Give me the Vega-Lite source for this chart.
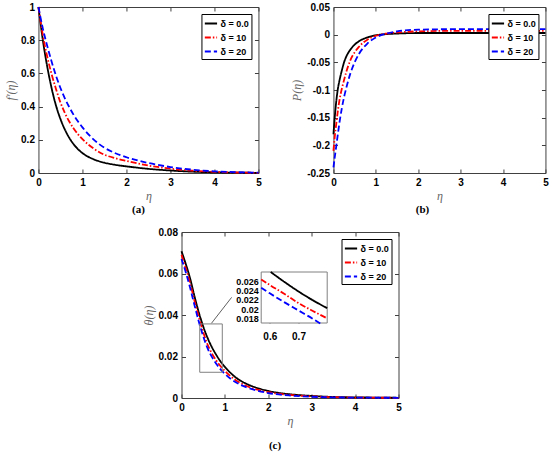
{
  "$schema": "https://vega.github.io/schema/vega-lite/v6.json",
  "background": "white",
  "padding": {"left": 4, "top": 1, "right": 1, "bottom": 0},
  "config": {
    "view": {"stroke": "#404040", "strokeWidth": 1},
    "axis": {
      "grid": false,
      "domain": false,
      "labelFont": "Liberation Sans",
      "labelFontWeight": "bold",
      "labelFontSize": 10,
      "labelColor": "black",
      "labelPadding": 8,
      "labelOverlap": false,
      "labelFlush": false,
      "tickColor": "#404040",
      "tickSize": -4,
      "titleFont": "Liberation Serif",
      "titleFontStyle": "italic",
      "titleFontWeight": "normal",
      "titleFontSize": 12,
      "titleColor": "#666666",
      "titlePadding": 3
    },
    "legend": {
      "orient": "top-right",
      "offset": 7,
      "strokeColor": "black",
      "fillColor": "white",
      "padding": 2,
      "rowPadding": 1,
      "symbolType": "stroke",
      "symbolSize": 150,
      "symbolStrokeWidth": 1.8,
      "labelFont": "Liberation Sans",
      "labelFontWeight": "bold",
      "labelFontSize": 9,
      "labelColor": "black",
      "labelOffset": 2
    },
    "title": {"font": "Liberation Serif", "fontWeight": "bold", "fontSize": 11, "color": "black", "orient": "bottom", "anchor": "middle"}
  },
  "datasets": {
    "fp": [
      {"eta": 0, "v": 1, "d": "δ = 0.0"}, {"eta": 0.1, "v": 0.8, "d": "δ = 0.0"}, {"eta": 0.2, "v": 0.64, "d": "δ = 0.0"},
      {"eta": 0.3, "v": 0.51, "d": "δ = 0.0"}, {"eta": 0.4, "v": 0.405, "d": "δ = 0.0"}, {"eta": 0.5, "v": 0.325, "d": "δ = 0.0"},
      {"eta": 0.6, "v": 0.262, "d": "δ = 0.0"}, {"eta": 0.7, "v": 0.212, "d": "δ = 0.0"}, {"eta": 0.8, "v": 0.173, "d": "δ = 0.0"},
      {"eta": 0.9, "v": 0.143, "d": "δ = 0.0"}, {"eta": 1, "v": 0.12, "d": "δ = 0.0"}, {"eta": 1.25, "v": 0.083, "d": "δ = 0.0"},
      {"eta": 1.5, "v": 0.062, "d": "δ = 0.0"}, {"eta": 1.75, "v": 0.049, "d": "δ = 0.0"}, {"eta": 2, "v": 0.04, "d": "δ = 0.0"},
      {"eta": 2.5, "v": 0.025, "d": "δ = 0.0"}, {"eta": 3, "v": 0.015, "d": "δ = 0.0"}, {"eta": 3.5, "v": 0.008, "d": "δ = 0.0"},
      {"eta": 4, "v": 0.004, "d": "δ = 0.0"}, {"eta": 4.5, "v": 0.002, "d": "δ = 0.0"}, {"eta": 5, "v": 0.001, "d": "δ = 0.0"},
      {"eta": 0, "v": 1, "d": "δ = 10"}, {"eta": 0.1, "v": 0.83, "d": "δ = 10"}, {"eta": 0.2, "v": 0.7, "d": "δ = 10"},
      {"eta": 0.3, "v": 0.595, "d": "δ = 10"}, {"eta": 0.4, "v": 0.505, "d": "δ = 10"}, {"eta": 0.5, "v": 0.425, "d": "δ = 10"},
      {"eta": 0.6, "v": 0.362, "d": "δ = 10"}, {"eta": 0.7, "v": 0.31, "d": "δ = 10"}, {"eta": 0.8, "v": 0.268, "d": "δ = 10"},
      {"eta": 0.9, "v": 0.233, "d": "δ = 10"}, {"eta": 1, "v": 0.204, "d": "δ = 10"}, {"eta": 1.25, "v": 0.148, "d": "δ = 10"},
      {"eta": 1.5, "v": 0.11, "d": "δ = 10"}, {"eta": 1.75, "v": 0.089, "d": "δ = 10"}, {"eta": 2, "v": 0.073, "d": "δ = 10"},
      {"eta": 2.5, "v": 0.045, "d": "δ = 10"}, {"eta": 3, "v": 0.026, "d": "δ = 10"}, {"eta": 3.5, "v": 0.014, "d": "δ = 10"},
      {"eta": 4, "v": 0.007, "d": "δ = 10"}, {"eta": 4.5, "v": 0.003, "d": "δ = 10"}, {"eta": 5, "v": 0.001, "d": "δ = 10"},
      {"eta": 0, "v": 1, "d": "δ = 20"}, {"eta": 0.1, "v": 0.87, "d": "δ = 20"}, {"eta": 0.2, "v": 0.765, "d": "δ = 20"},
      {"eta": 0.3, "v": 0.67, "d": "δ = 20"}, {"eta": 0.4, "v": 0.585, "d": "δ = 20"}, {"eta": 0.5, "v": 0.512, "d": "δ = 20"},
      {"eta": 0.6, "v": 0.45, "d": "δ = 20"}, {"eta": 0.7, "v": 0.397, "d": "δ = 20"}, {"eta": 0.8, "v": 0.35, "d": "δ = 20"},
      {"eta": 0.9, "v": 0.31, "d": "δ = 20"}, {"eta": 1, "v": 0.275, "d": "δ = 20"}, {"eta": 1.25, "v": 0.203, "d": "δ = 20"},
      {"eta": 1.5, "v": 0.152, "d": "δ = 20"}, {"eta": 1.75, "v": 0.119, "d": "δ = 20"}, {"eta": 2, "v": 0.095, "d": "δ = 20"},
      {"eta": 2.5, "v": 0.06, "d": "δ = 20"}, {"eta": 3, "v": 0.036, "d": "δ = 20"}, {"eta": 3.5, "v": 0.02, "d": "δ = 20"},
      {"eta": 4, "v": 0.01, "d": "δ = 20"}, {"eta": 4.5, "v": 0.005, "d": "δ = 20"}, {"eta": 5, "v": 0.002, "d": "δ = 20"}
    ],
    "pr": [
      {"eta": 0, "v": -0.18, "d": "δ = 0.0"}, {"eta": 0.03, "v": -0.15, "d": "δ = 0.0"}, {"eta": 0.06, "v": -0.125, "d": "δ = 0.0"},
      {"eta": 0.1, "v": -0.1, "d": "δ = 0.0"}, {"eta": 0.15, "v": -0.08, "d": "δ = 0.0"}, {"eta": 0.2, "v": -0.064, "d": "δ = 0.0"},
      {"eta": 0.25, "v": -0.05, "d": "δ = 0.0"}, {"eta": 0.3, "v": -0.04, "d": "δ = 0.0"}, {"eta": 0.4, "v": -0.027, "d": "δ = 0.0"},
      {"eta": 0.5, "v": -0.018, "d": "δ = 0.0"}, {"eta": 0.6, "v": -0.012, "d": "δ = 0.0"}, {"eta": 0.8, "v": -0.005, "d": "δ = 0.0"},
      {"eta": 1, "v": -0.001, "d": "δ = 0.0"}, {"eta": 1.25, "v": 0.001, "d": "δ = 0.0"}, {"eta": 1.5, "v": 0.002, "d": "δ = 0.0"},
      {"eta": 2, "v": 0.003, "d": "δ = 0.0"}, {"eta": 3, "v": 0.003, "d": "δ = 0.0"}, {"eta": 5, "v": 0.003, "d": "δ = 0.0"},
      {"eta": 0, "v": -0.21, "d": "δ = 10"}, {"eta": 0.03, "v": -0.185, "d": "δ = 10"}, {"eta": 0.06, "v": -0.165, "d": "δ = 10"},
      {"eta": 0.1, "v": -0.14, "d": "δ = 10"}, {"eta": 0.15, "v": -0.115, "d": "δ = 10"}, {"eta": 0.2, "v": -0.097, "d": "δ = 10"},
      {"eta": 0.25, "v": -0.082, "d": "δ = 10"}, {"eta": 0.3, "v": -0.068, "d": "δ = 10"}, {"eta": 0.4, "v": -0.046, "d": "δ = 10"},
      {"eta": 0.5, "v": -0.032, "d": "δ = 10"}, {"eta": 0.6, "v": -0.022, "d": "δ = 10"}, {"eta": 0.8, "v": -0.009, "d": "δ = 10"},
      {"eta": 1, "v": -0.002, "d": "δ = 10"}, {"eta": 1.25, "v": 0.002, "d": "δ = 10"}, {"eta": 1.5, "v": 0.004, "d": "δ = 10"},
      {"eta": 2, "v": 0.006, "d": "δ = 10"}, {"eta": 3, "v": 0.007, "d": "δ = 10"}, {"eta": 5, "v": 0.007, "d": "δ = 10"},
      {"eta": 0, "v": -0.24, "d": "δ = 20"}, {"eta": 0.03, "v": -0.222, "d": "δ = 20"}, {"eta": 0.06, "v": -0.205, "d": "δ = 20"},
      {"eta": 0.1, "v": -0.182, "d": "δ = 20"}, {"eta": 0.15, "v": -0.155, "d": "δ = 20"}, {"eta": 0.2, "v": -0.132, "d": "δ = 20"},
      {"eta": 0.25, "v": -0.113, "d": "δ = 20"}, {"eta": 0.3, "v": -0.097, "d": "δ = 20"}, {"eta": 0.4, "v": -0.07, "d": "δ = 20"},
      {"eta": 0.5, "v": -0.05, "d": "δ = 20"}, {"eta": 0.6, "v": -0.035, "d": "δ = 20"}, {"eta": 0.8, "v": -0.016, "d": "δ = 20"},
      {"eta": 1, "v": -0.005, "d": "δ = 20"}, {"eta": 1.25, "v": 0.002, "d": "δ = 20"}, {"eta": 1.5, "v": 0.006, "d": "δ = 20"},
      {"eta": 2, "v": 0.009, "d": "δ = 20"}, {"eta": 3, "v": 0.01, "d": "δ = 20"}, {"eta": 5, "v": 0.01, "d": "δ = 20"}
    ],
    "theta": [
      {"eta": 0, "v": 0.0707, "d": "δ = 0.0"}, {"eta": 0.1, "v": 0.0645, "d": "δ = 0.0"}, {"eta": 0.2, "v": 0.0575, "d": "δ = 0.0"},
      {"eta": 0.3, "v": 0.049, "d": "δ = 0.0"}, {"eta": 0.4, "v": 0.0412, "d": "δ = 0.0"}, {"eta": 0.5, "v": 0.0345, "d": "δ = 0.0"},
      {"eta": 0.6, "v": 0.029, "d": "δ = 0.0"}, {"eta": 0.7, "v": 0.0245, "d": "δ = 0.0"}, {"eta": 0.8, "v": 0.0208, "d": "δ = 0.0"},
      {"eta": 0.9, "v": 0.0176, "d": "δ = 0.0"}, {"eta": 1, "v": 0.015, "d": "δ = 0.0"}, {"eta": 1.25, "v": 0.0099, "d": "δ = 0.0"},
      {"eta": 1.5, "v": 0.0068, "d": "δ = 0.0"}, {"eta": 1.75, "v": 0.0048, "d": "δ = 0.0"}, {"eta": 2, "v": 0.0034, "d": "δ = 0.0"},
      {"eta": 2.5, "v": 0.0018, "d": "δ = 0.0"}, {"eta": 3, "v": 0.001, "d": "δ = 0.0"}, {"eta": 3.5, "v": 0.0005, "d": "δ = 0.0"},
      {"eta": 4, "v": 0.0003, "d": "δ = 0.0"}, {"eta": 4.5, "v": 0.0002, "d": "δ = 0.0"}, {"eta": 5, "v": 0.0001, "d": "δ = 0.0"},
      {"eta": 0, "v": 0.069, "d": "δ = 10"}, {"eta": 0.1, "v": 0.0625, "d": "δ = 10"}, {"eta": 0.2, "v": 0.0553, "d": "δ = 10"},
      {"eta": 0.3, "v": 0.0468, "d": "δ = 10"}, {"eta": 0.4, "v": 0.039, "d": "δ = 10"}, {"eta": 0.5, "v": 0.0318, "d": "δ = 10"},
      {"eta": 0.6, "v": 0.0258, "d": "δ = 10"}, {"eta": 0.7, "v": 0.0215, "d": "δ = 10"}, {"eta": 0.8, "v": 0.0181, "d": "δ = 10"},
      {"eta": 0.9, "v": 0.0153, "d": "δ = 10"}, {"eta": 1, "v": 0.013, "d": "δ = 10"}, {"eta": 1.25, "v": 0.0086, "d": "δ = 10"},
      {"eta": 1.5, "v": 0.0058, "d": "δ = 10"}, {"eta": 1.75, "v": 0.004, "d": "δ = 10"}, {"eta": 2, "v": 0.0028, "d": "δ = 10"},
      {"eta": 2.5, "v": 0.0015, "d": "δ = 10"}, {"eta": 3, "v": 0.0008, "d": "δ = 10"}, {"eta": 3.5, "v": 0.0004, "d": "δ = 10"},
      {"eta": 4, "v": 0.0002, "d": "δ = 10"}, {"eta": 5, "v": 0.0001, "d": "δ = 10"},
      {"eta": 0, "v": 0.067, "d": "δ = 20"}, {"eta": 0.1, "v": 0.0605, "d": "δ = 20"}, {"eta": 0.2, "v": 0.053, "d": "δ = 20"},
      {"eta": 0.3, "v": 0.0447, "d": "δ = 20"}, {"eta": 0.4, "v": 0.0367, "d": "δ = 20"}, {"eta": 0.5, "v": 0.0298, "d": "δ = 20"},
      {"eta": 0.6, "v": 0.024, "d": "δ = 20"}, {"eta": 0.7, "v": 0.0198, "d": "δ = 20"}, {"eta": 0.8, "v": 0.0165, "d": "δ = 20"},
      {"eta": 0.9, "v": 0.0138, "d": "δ = 20"}, {"eta": 1, "v": 0.0116, "d": "δ = 20"}, {"eta": 1.25, "v": 0.0076, "d": "δ = 20"},
      {"eta": 1.5, "v": 0.0051, "d": "δ = 20"}, {"eta": 1.75, "v": 0.0035, "d": "δ = 20"}, {"eta": 2, "v": 0.0024, "d": "δ = 20"},
      {"eta": 2.5, "v": 0.0012, "d": "δ = 20"}, {"eta": 3, "v": 0.0006, "d": "δ = 20"}, {"eta": 3.5, "v": 0.0003, "d": "δ = 20"},
      {"eta": 4, "v": 0.0002, "d": "δ = 20"}, {"eta": 5, "v": 0.0001, "d": "δ = 20"}
    ],
    "inset": [
      {"eta": 0.603, "v": 0.028, "d": "δ = 0.0"}, {"eta": 0.65, "v": 0.0259, "d": "δ = 0.0"}, {"eta": 0.7, "v": 0.0238, "d": "δ = 0.0"},
      {"eta": 0.75, "v": 0.0219, "d": "δ = 0.0"}, {"eta": 0.8, "v": 0.0202, "d": "δ = 0.0"},
      {"eta": 0.57, "v": 0.0264, "d": "δ = 10"}, {"eta": 0.6, "v": 0.0252, "d": "δ = 10"}, {"eta": 0.65, "v": 0.0233, "d": "δ = 10"},
      {"eta": 0.7, "v": 0.0213, "d": "δ = 10"}, {"eta": 0.75, "v": 0.0196, "d": "δ = 10"}, {"eta": 0.8, "v": 0.018, "d": "δ = 10"},
      {"eta": 0.57, "v": 0.0246, "d": "δ = 20"}, {"eta": 0.6, "v": 0.0234, "d": "δ = 20"}, {"eta": 0.65, "v": 0.0215, "d": "δ = 20"},
      {"eta": 0.7, "v": 0.0197, "d": "δ = 20"}, {"eta": 0.75, "v": 0.0179, "d": "δ = 20"}, {"eta": 0.776, "v": 0.0169, "d": "δ = 20"}
    ],
    "zoombox": [{"x1": 0.42, "x2": 0.94, "y1": 0.0124, "y2": 0.0357}],
    "connector": [{"x1": 0.69, "y1": 0.036, "x2": 1.155, "y2": 0.0485}],
    "insetbox": [{"x1": 0.57, "x2": 0.8, "y1": 0.017, "y2": 0.028}]
  },
  "vconcat": [
    {
      "hconcat": [
        {
          "width": 220,
          "height": 166,
          "data": {"name": "fp"},
          "title": {"text": "(a)", "offset": 3, "dx": -10},
          "layer": [
            {
              "mark": {"type": "line", "strokeWidth": 1.8, "interpolate": "monotone"},
              "encoding": {
                "x": {"field": "eta", "type": "quantitative", "scale": {"domain": [0, 5], "nice": false}, "axis": {"orient": "bottom", "values": [0, 1, 2, 3, 4, 5], "title": "η"}},
                "y": {"field": "v", "type": "quantitative", "scale": {"domain": [0, 1], "nice": false}, "axis": {"orient": "left", "values": [0, 0.2, 0.4, 0.6, 0.8, 1], "title": "f′(η)", "labelExpr": "'' + datum.value"}},
                "color": {"field": "d", "type": "nominal", "scale": {"domain": ["δ = 0.0", "δ = 10", "δ = 20"], "range": ["#000000", "#ff0000", "#0000ff"]}, "legend": {"title": null}},
                "strokeDash": {"field": "d", "type": "nominal", "scale": {"domain": ["δ = 0.0", "δ = 10", "δ = 20"], "range": [[1, 0], [6, 2, 1.5, 2], [6, 3]]}, "legend": {"title": null}}
              }
            },
            {
              "mark": {"type": "point", "opacity": 0},
              "encoding": {
                "x": {"field": "eta", "type": "quantitative", "axis": {"orient": "top", "values": [0, 1, 2, 3, 4, 5], "labels": false, "title": null}},
                "y": {"field": "v", "type": "quantitative", "axis": {"orient": "right", "values": [0, 0.2, 0.4, 0.6, 0.8, 1], "labels": false, "title": null}}
              }
            }
          ],
          "resolve": {"axis": {"x": "independent", "y": "independent"}}
        },
        {
          "width": 212,
          "height": 166,
          "data": {"name": "pr"},
          "title": {"text": "(b)", "offset": 3, "dx": -17},
          "layer": [
            {
              "mark": {"type": "line", "strokeWidth": 1.8, "interpolate": "monotone"},
              "encoding": {
                "x": {"field": "eta", "type": "quantitative", "scale": {"domain": [0, 5], "nice": false}, "axis": {"orient": "bottom", "values": [0, 1, 2, 3, 4, 5], "title": "η"}},
                "y": {"field": "v", "type": "quantitative", "scale": {"domain": [-0.25, 0.05], "nice": false, "zero": false}, "axis": {"orient": "left", "values": [-0.25, -0.2, -0.15, -0.1, -0.05, 0, 0.05], "title": "P(η)", "labelExpr": "'' + datum.value"}},
                "color": {"field": "d", "type": "nominal", "scale": {"domain": ["δ = 0.0", "δ = 10", "δ = 20"], "range": ["#000000", "#ff0000", "#0000ff"]}, "legend": {"title": null}},
                "strokeDash": {"field": "d", "type": "nominal", "scale": {"domain": ["δ = 0.0", "δ = 10", "δ = 20"], "range": [[1, 0], [6, 2, 1.5, 2], [6, 3]]}, "legend": {"title": null}}
              }
            },
            {
              "mark": {"type": "point", "opacity": 0},
              "encoding": {
                "x": {"field": "eta", "type": "quantitative", "axis": {"orient": "top", "values": [0, 1, 2, 3, 4, 5], "labels": false, "title": null}},
                "y": {"field": "v", "type": "quantitative", "axis": {"orient": "right", "values": [-0.25, -0.2, -0.15, -0.1, -0.05, 0, 0.05], "labels": false, "title": null}}
              }
            }
          ],
          "resolve": {"axis": {"x": "independent", "y": "independent"}}
        }
      ],
      "spacing": 26,
      "resolve": {"scale": {"color": "independent", "strokeDash": "independent"}}
    },
    {
      "width": 217,
      "height": 166,
      "title": {"text": "(c)", "offset": 14, "dx": -15},
      "layer": [
        {
          "layer": [
            {
              "data": {"name": "theta"},
              "mark": {"type": "line", "strokeWidth": 1.8, "interpolate": "monotone"},
              "encoding": {
                "x": {"field": "eta", "type": "quantitative", "scale": {"domain": [0, 5], "nice": false}, "axis": {"orient": "bottom", "values": [0, 1, 2, 3, 4, 5], "title": "η"}},
                "y": {"field": "v", "type": "quantitative", "scale": {"domain": [0, 0.08], "nice": false}, "axis": {"orient": "left", "values": [0, 0.02, 0.04, 0.06, 0.08], "title": "θ(η)", "labelExpr": "'' + datum.value"}},
                "color": {"field": "d", "type": "nominal", "scale": {"domain": ["δ = 0.0", "δ = 10", "δ = 20"], "range": ["#000000", "#ff0000", "#0000ff"]}, "legend": {"title": null}},
                "strokeDash": {"field": "d", "type": "nominal", "scale": {"domain": ["δ = 0.0", "δ = 10", "δ = 20"], "range": [[1, 0], [6, 2, 1.5, 2], [6, 3]]}, "legend": {"title": null}}
              }
            },
            {
              "data": {"name": "theta"},
              "mark": {"type": "point", "opacity": 0},
              "encoding": {
                "x": {"field": "eta", "type": "quantitative", "axis": {"orient": "top", "values": [0, 1, 2, 3, 4, 5], "labels": false, "title": null}},
                "y": {"field": "v", "type": "quantitative", "axis": {"orient": "right", "values": [0, 0.02, 0.04, 0.06, 0.08], "labels": false, "title": "I", "titleOpacity": 0, "titleFontSize": 7, "titlePadding": 0}}
              }
            },
            {
              "data": {"name": "zoombox"},
              "mark": {"type": "rect", "fill": null, "stroke": "#808080", "strokeWidth": 1},
              "encoding": {
                "x": {"field": "x1", "type": "quantitative", "axis": null},
                "x2": {"field": "x2"},
                "y": {"field": "y1", "type": "quantitative", "axis": null},
                "y2": {"field": "y2"}
              }
            },
            {
              "data": {"name": "connector"},
              "mark": {"type": "rule", "stroke": "#606060", "strokeWidth": 1},
              "encoding": {
                "x": {"field": "x1", "type": "quantitative", "axis": null},
                "x2": {"field": "x2"},
                "y": {"field": "y1", "type": "quantitative", "axis": null},
                "y2": {"field": "y2"}
              }
            }
          ],
          "resolve": {"axis": {"x": "independent", "y": "independent"}}
        },
        {
          "layer": [
            {
              "data": {"name": "insetbox"},
              "mark": {"type": "rect", "fill": "white", "stroke": "#808080", "strokeWidth": 1},
              "encoding": {
                "x": {"field": "x1", "type": "quantitative", "scale": {"domain": [0.57, 0.8], "range": [79.7, 145.7], "nice": false, "zero": false},
                  "axis": {"orient": "bottom", "offset": -75, "values": [0.6, 0.7], "title": null, "labelFontSize": 10, "labelPadding": 11, "tickSize": -3, "labelExpr": "'' + datum.value"}},
                "x2": {"field": "x2"},
                "y": {"field": "y1", "type": "quantitative", "scale": {"domain": [0.017, 0.028], "range": [91, 40], "nice": false, "zero": false},
                  "axis": {"orient": "left", "offset": -79.7, "values": [0.018, 0.02, 0.022, 0.024, 0.026], "title": null, "labelFontSize": 9, "labelPadding": 6, "tickSize": -3, "labelExpr": "'' + datum.value"}},
                "y2": {"field": "y2"}
              }
            },
            {
              "data": {"name": "inset"},
              "mark": {"type": "line", "strokeWidth": 1.8, "interpolate": "monotone"},
              "encoding": {
                "x": {"field": "eta", "type": "quantitative"},
                "y": {"field": "v", "type": "quantitative"},
                "color": {"field": "d", "type": "nominal", "legend": null},
                "strokeDash": {"field": "d", "type": "nominal", "legend": null}
              }
            }
          ]
        }
      ],
      "resolve": {"scale": {"x": "independent", "y": "independent"}}
    }
  ],
  "spacing": 10,
  "center": true,
  "resolve": {"scale": {"color": "independent", "strokeDash": "independent"}}
}
